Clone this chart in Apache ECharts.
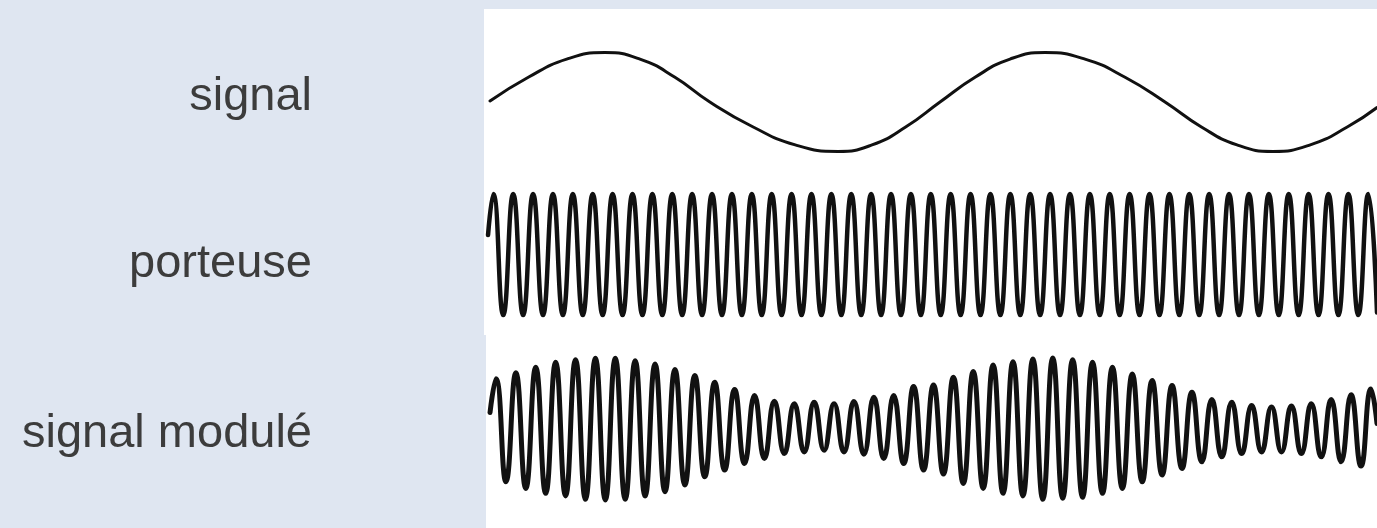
<!DOCTYPE html>
<html>
<head>
<meta charset="utf-8">
<script src="https://cdn.jsdelivr.net/npm/echarts@6/dist/echarts.min.js"></script>
<style>
html,body{margin:0;padding:0;background:#dfe6f1;}
#c{width:1377px;height:528px;}
</style>
</head>
<body>
<div id="c"></div>
<script>
// Row labels
var rowLabels = ['signal', 'porteuse', 'signal modulé'];

// x unit = half a carrier period; carrier extremes sit at integer positions
// signal: [x, amplitude]
var signalX = [-0.33, 3.52, 7.38, 11.23, 14.75, 18.27, 21.78, 26.09, 30.37, 34.67, 38.09, 41.51, 44.93, 48.45, 51.97, 55.49, 59.51, 63.54, 67.56, 71.18, 74.80, 78.42, 82.17, 85.93, 88.88];
var signalY = [1, 24.75, 42.9, 49.5, 42.9, 24.75, 0, -24.75, -42.9, -49.5, -42.9, -24.75, 0, 24.75, 42.9, 49.5, 42.9, 24.75, 0, -24.75, -42.9, -49.5, -42.9, -24.75, -5.5];

// carrier: start point, 89 extremes (x = 0..88), end point
var carrierStart = [-0.53, 19.5];
var carrierEnd = [88.88, -58];
var carrierExtremes = [
  60.5, -60.5, 60.5, -60.5, 60.5, -60.5, 60.5, -60.5, 60.5, -60.5,
  60.5, -60.5, 60.5, -60.5, 60.5, -60.5, 60.5, -60.5, 60.5, -60.5,
  60.5, -60.5, 60.5, -60.5, 60.5, -60.5, 60.5, -60.5, 60.5, -60.5,
  60.5, -60.5, 60.5, -60.5, 60.5, -60.5, 60.5, -60.5, 60.5, -60.5,
  60.5, -60.5, 60.5, -60.5, 60.5, -60.5, 60.5, -60.5, 60.5, -60.5,
  60.5, -60.5, 60.5, -60.5, 60.5, -60.5, 60.5, -60.5, 60.5, -60.5,
  60.5, -60.5, 60.5, -60.5, 60.5, -60.5, 60.5, -60.5, 60.5, -60.5,
  60.5, -60.5, 60.5, -60.5, 60.5, -60.5, 60.5, -60.5, 60.5, -60.5,
  60.5, -60.5, 60.5, -60.5, 60.5, -60.5, 60.5, -60.5, 60.5
];

// modulated signal: start point, 89 extremes (x = k + offset), end point
var modulatedOffset = 0.27;
var modulatedStart = [-0.33, 16];
var modulatedEnd = [88.88, 5];
var modulatedExtremes = [
  50, -53.5, 56, -60.2, 61.5, -65.2, 66.5, -67.8, 69.2, -71.2,
  70.5, -71.8, 70.5, -71.2, 68.2, -67.8, 64.8, -63.5, 59.2, -56.8,
  53.2, -48.5, 46.5, -41.8, 39.2, -35.2, 33.2, -30.2, 27.5, -25.2,
  24.8, -23.5, 26.5, -21.8, 24.8, -23.5, 27.2, -25.8, 31.5, -30.2,
  33.2, -35.2, 42.2, -41.8, 43.8, -45.8, 51.5, -55.2, 57.2, -60.2,
  63.8, -65.2, 67.2, -67.8, 69.8, -71.2, 70.8, -70.2, 69.2, -69.2,
  66.5, -65.2, 61.5, -60.2, 54.8, -53.5, 48.2, -46.8, 43.2, -40.2,
  36.5, -33.5, 29.2, -28.5, 26.5, -25.2, 23.2, -23.5, 21.5, -23.5,
  22.5, -25.2, 24.8, -28.5, 29.2, -33.5, 33.8, -37.8, 39.8
];

// ---- build series data ----
var signalData = signalX.map(function (x, i) { return [x, signalY[i]]; });
var carrierData = [carrierStart].concat(carrierExtremes.map(function (v, i) { return [i, v]; }), [carrierEnd]);
var modulatedData = [modulatedStart].concat(modulatedExtremes.map(function (v, i) { return [i + modulatedOffset, v]; }), [modulatedEnd]);

var chart = echarts.init(document.getElementById('c'), null, {renderer: 'canvas'});

var X_MIN = -0.634, X_MAX = 88.88;
var mids = [102, 254.5, 429];
var grids = mids.map(function (m) { return {left: 487, width: 890, top: m - 100, height: 200, show: false}; });
var xAxes = mids.map(function (m, i) {
  return {type: 'value', gridIndex: i, min: X_MIN, max: X_MAX, show: false};
});
var yAxes = mids.map(function (m, i) {
  return {type: 'value', gridIndex: i, min: -100, max: 100, show: false};
});

var labelCenters = [97, 264, 434];
var FONT = 47;

var graphics = [
  {type: 'rect', shape: {x: 484, y: 9, width: 893, height: 326}, style: {fill: '#ffffff'}, z: -10, silent: true},
  {type: 'rect', shape: {x: 486, y: 334, width: 891, height: 194}, style: {fill: '#ffffff'}, z: -10, silent: true}
];
rowLabels.forEach(function (t, i) {
  graphics.push({
    type: 'text',
    x: 312,
    y: labelCenters[i],
    style: {
      text: t,
      fill: '#3c3c3c',
      font: FONT + 'px "Liberation Sans", Arial, sans-serif',
      textAlign: 'right',
      textVerticalAlign: 'middle'
    },
    silent: true
  });
});

function lineSeries(data, idx, w) {
  return {
    type: 'line',
    xAxisIndex: idx,
    yAxisIndex: idx,
    data: data,
    smooth: true,
    showSymbol: false,
    symbol: 'none',
    silent: true,
    lineStyle: {color: '#111111', width: w, cap: 'round', join: 'round'},
    animation: false
  };
}

chart.setOption({
  backgroundColor: '#dfe6f1',
  animation: false,
  grid: grids,
  xAxis: xAxes,
  yAxis: yAxes,
  graphic: graphics,
  series: [
    lineSeries(signalData, 0, 3),
    lineSeries(carrierData, 1, 4.5),
    lineSeries(modulatedData, 2, 5)
  ]
});
</script>
</body>
</html>
